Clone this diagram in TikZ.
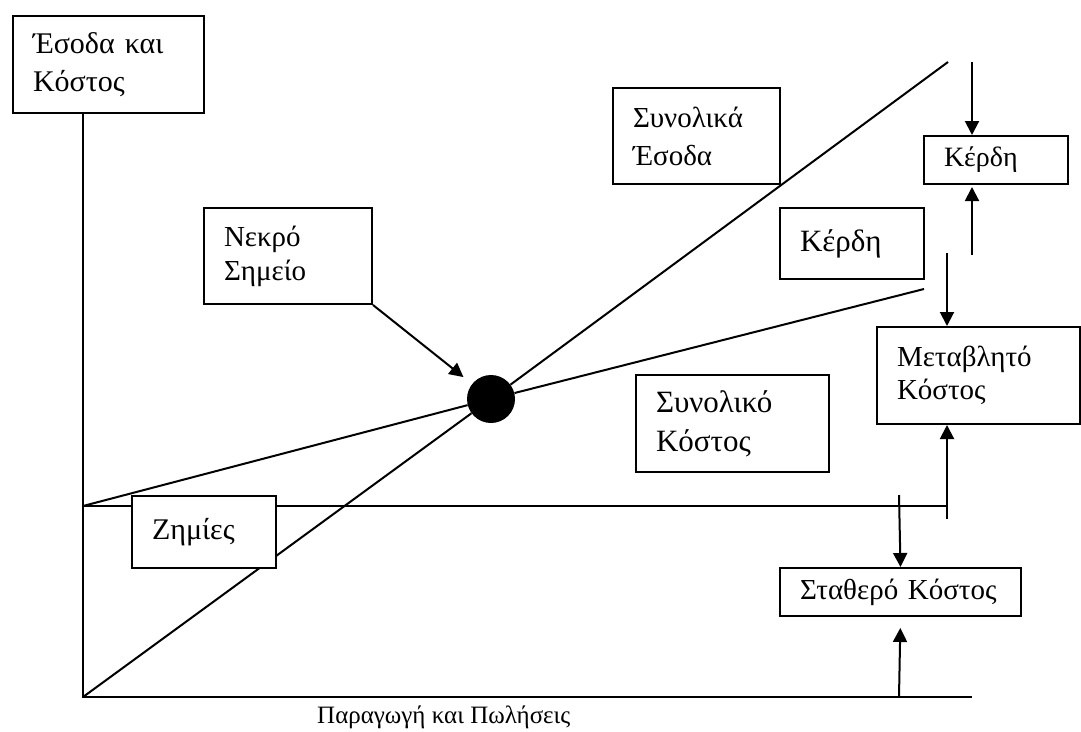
\documentclass[tikz,border=0pt]{standalone}
\usepackage{fontspec}
\setmainfont{Liberation Serif}
\usetikzlibrary{arrows.meta}
\pgfdeclarelayer{bg}
\pgfsetlayers{bg,main}
\begin{document}
\begin{tikzpicture}[x=1pt,y=-1pt,
  lbl/.style={draw, line width=2pt, fill=white, rectangle, anchor=north west,
    inner xsep=20pt, inner ysep=0pt, align=left,
    font=\fontsize{30}{38}\selectfont},
  ln/.style={line width=2pt},
  arr/.style={line width=2pt, -{Triangle[length=14pt,width=14pt]}}
]
\useasboundingbox (0,0) rectangle (1081,731);

% boxes
\node[lbl, minimum width=191pt, text width=151pt, minimum height=97pt] (ylab) at (12,15) {Έσοδα και\\Κόστος};
\node[lbl, minimum width=167pt, text width=127pt, minimum height=96pt, font=\fontsize{29}{38}\selectfont] (trbox) at (612,87) {Συνολικά\\Έσοδα};
\node[lbl, minimum width=144pt, text width=104pt, minimum height=48pt, font=\fontsize{28}{32}\selectfont] (ktop) at (923,135) {Κέρδη};
\node[lbl, minimum width=144pt, text width=104pt, minimum height=71pt, font=\fontsize{31}{38}\selectfont] (kmid) at (779,207) {Κέρδη};
\node[lbl, minimum width=168pt, text width=128pt, minimum height=96pt, font=\fontsize{29}{34}\selectfont] (nekro) at (203,207) {Νεκρό\\Σημείο};
\node[lbl, minimum width=193pt, text width=153pt, minimum height=97pt, font=\fontsize{31}{39}\selectfont] (tcbox) at (635,374) {Συνολικό\\Κόστος};
\node[lbl, minimum width=203pt, text width=163pt, minimum height=97pt, font=\fontsize{29}{33}\selectfont] (var) at (876,326) {Μεταβλητό\\Κόστος};
\node[lbl, minimum width=144pt, text width=104pt, minimum height=72pt] (zhm) at (131,495) {Ζημίες};
\node[lbl, minimum width=241pt, text width=201pt, minimum height=48pt, font=\fontsize{29}{34}\selectfont] (fixed) at (779,567) {Σταθερό Κόστος};
\node[anchor=base west, inner sep=0pt, font=\fontsize{25}{30}\selectfont] (xlab) at (317,723) {Παραγωγή και Πωλήσεις};

% break-even point
\node[circle, fill=black, minimum size=48pt, inner sep=0pt] (bep) at (491,399) {};

% coordinates
\coordinate (O) at (83,697);
\coordinate (F0) at (83,506);
\coordinate (Xend) at (972,697);
\coordinate (TRend) at (948,62);
\coordinate (TCend) at (924,289);
\coordinate (Fend) at (947,506);
\coordinate (Fdrop) at (947,519);
\coordinate (A1) at (972,62);
\coordinate (A2) at (972,255);
\coordinate (A3) at (947,253);
\coordinate (A4) at (899,495);
\coordinate (A5) at (899,697);

\begin{pgfonlayer}{bg}
\draw[ln] (ylab.south -| O) -- (O) -- (Xend);
\draw[ln] (O) -- (bep) -- (TRend);
\draw[ln] (F0) -- (bep) -- (TCend);
\draw[ln] (F0) -- (Fend) -- (Fdrop);
\end{pgfonlayer}

% arrows
\draw[arr] (A1) -- (A1 |- ktop.north);
\draw[arr, shorten >=2pt] (A2) -- (A2 |- ktop.south);
\draw[arr] (A3) -- (A3 |- var.north);
\draw[arr] (Fdrop) -- (Fdrop |- var.south);
\draw[arr] (A4) -- (fixed.north);
\draw[arr, shorten >=11pt] (A5) -- (fixed.south);
\draw[arr, shorten >=11pt] (nekro.south east) -- (bep);
\end{tikzpicture}
\end{document}
